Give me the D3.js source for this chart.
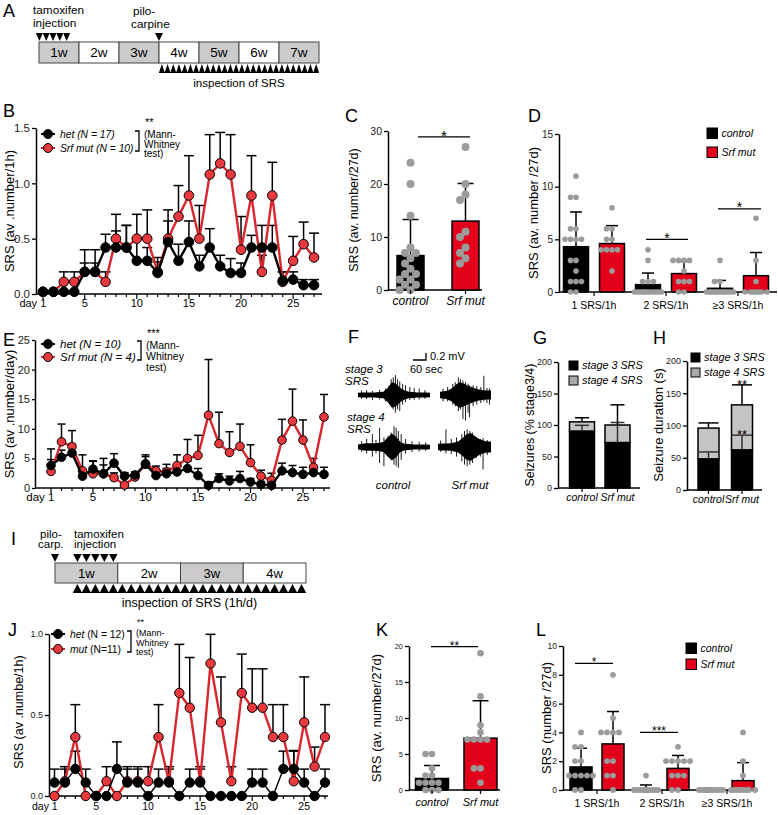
<!DOCTYPE html>
<html>
<head>
<meta charset="utf-8">
<script src="https://cdn.jsdelivr.net/npm/d3@7"></script>
<style>
body { margin: 0; background: #fff; }
svg { font-family: "Liberation Sans", Arial, sans-serif; }
</style>
</head>
<body>
<div id="fig"></div>
<script>
// ---- data ----
var days = d3.range(1, 28);
var xLabelDays = [1, 5, 10, 15, 20, 25];

// B: SRS per 1h, het vs Srf mut
var bHet    = [0.02,0.02,0.02,0.02,0.2,0.2,0.42,0.42,0.42,0.3,0.3,0.19,0.47,0.3,0.47,0.25,0.42,0.25,0.19,0.19,0.42,0.42,0.42,0.12,0.13,0.08,0.08];
var bHetErr = [0,0,0,0,0.2,0.2,0.12,0.15,0.2,0.2,0.12,0.1,0.19,0.15,0.19,0.1,0.17,0.1,0.13,0.09,0.11,0.2,0.2,0.08,0.07,0.05,0.05];
var bMut    = [0.02,0.02,0.11,0.11,0.2,0.2,0.11,0.5,0.42,0.5,0.5,0.2,0.5,0.7,0.89,0.5,1.08,1.18,1.08,0.4,0.89,0.2,0.89,0.11,0.3,0.45,0.33];
var bMutErr = [0,0,0.09,0.09,0.08,0.08,0.09,0.22,0.2,0.22,0.26,0.13,0.26,0.28,0.36,0.3,0.36,0.28,0.36,0.3,0.36,0.15,0.3,0.09,0.22,0.2,0.22];

// C: SRS per 27 days
var groupsCK = ["control", "Srf mut"];
var cCtrlDots = [24,20,14,8,7,7,6,5,4,3,3,2,2,1,1,0,0];
var cMutDots  = [27,20,18,17,11,10,8,7,6,5];
var cMean = [6.5, 13.0];
var cErr  = [6.8, 7.1];

// D: SRS by number of seizures per hour
var groupsDL = ["1 SRS/1h", "2 SRS/1h", "\u22653 SRS/1h"];
var dCtrlMean = [4.3, 0.7, 0.35];
var dCtrlErr  = [3.3, 1.1, 0.75];
var dMutMean  = [4.6, 1.75, 1.55];
var dMutErr   = [1.7, 1.15, 2.2];
var dCtrlDots = [
  [11,9,9,6,6,5,5,5,5,3,3,2,1,1,1,0,0],
  [4,3,1,1,1,0,0,0,0,0,0,0,0,0,0,0,0],
  [3,1,1,0,0,0,0,0,0,0,0,0,0,0,0,0,0]
];
var dMutDots = [
  [8,6,6,5,5,4,4,4,4,2],
  [3,3,3,3,2,1,1,1,0,0],
  [7,3,1,0,0,0,0,0,0,0]
];

// E: SRS per day
var eHet    = [3.8,5.2,5.9,2.0,3.2,2.4,4.2,2.0,2.2,4.0,2.1,2.4,2.7,3.3,2.1,0.45,1.6,1.2,1.6,1.0,0.6,0.45,2.9,2.6,2.3,2.6,2.3];
var eHetErr = [1.0,1.2,1.5,1.0,1.3,1.5,1.6,0.6,0.5,1.3,0.8,0.9,0.9,1.2,1.2,0.6,0.8,0.8,1.2,0.6,0.5,0.5,1.3,1.2,1.2,1.0,1.2];
var eMut    = [2.8,7.8,7.0,2.9,2.4,2.4,1.75,0.5,1.85,4.1,2.9,2.7,3.8,5.0,5.5,12.3,7.5,6.0,7.05,4.3,2.0,1.3,8.1,11.3,8.1,3.5,12.0];
var eMutErr = [3.8,3.0,2.7,2.7,2.2,2.6,0.8,2.0,0.8,1.5,0.8,1.3,1.8,3.2,3.4,9.4,5.3,3.5,3.75,3.0,1.0,1.2,3.5,5.4,3.4,1.5,3.8];

// F: EEG envelopes (half amplitude, mV) and spikes [t, up, down]
var eegCtrl3 = [0.07,0.08,0.08,0.08,0.08,0.09,0.1,0.22,0.4,0.35,0.22,0.14,0.1,0.09,0.08,0.08,0.08,0.07];
var eegMut3  = [0.1,0.12,0.14,0.2,0.32,0.4,0.36,0.3,0.25,0.2,0.17,0.15,0.14,0.14];
var eegCtrl4 = [0.08,0.1,0.12,0.12,0.12,0.13,0.16,0.3,0.42,0.32,0.16,0.1,0.09,0.08,0.08,0.08,0.08,0.07];
var eegMut4  = [0.1,0.11,0.11,0.12,0.14,0.18,0.27,0.4,0.44,0.34,0.26,0.2,0.17,0.17];
var spkCtrl3 = [[0.05,0.14,0.12],[0.12,0.15,0.13],[0.2,0.13,0.16],[0.3,0.16,0.14],[0.38,0.2,0.2],[0.43,0.3,0.25],[0.46,0.5,0.35],[0.49,0.55,0.45],[0.52,0.62,0.55],[0.55,0.5,0.45],[0.58,0.42,0.5],[0.62,0.35,0.3],[0.66,0.3,0.22],[0.72,0.25,0.16],[0.78,0.22,0.15],[0.85,0.2,0.14],[0.93,0.15,0.12]];
var spkMut3  = [[0.06,0.2,0.2],[0.15,0.25,0.2],[0.25,0.35,0.3],[0.3,0.4,0.35],[0.36,0.55,0.5],[0.4,0.5,0.45],[0.45,0.45,0.75],[0.5,0.4,0.8],[0.55,0.35,0.55],[0.58,0.3,0.7],[0.65,0.3,0.35],[0.72,0.28,0.3],[0.8,0.25,0.25],[0.86,0.6,0.2],[0.92,0.22,0.25],[0.97,0.2,0.3]];
var spkCtrl4 = [[0.05,0.18,0.15],[0.12,0.25,0.2],[0.2,0.4,0.3],[0.25,0.22,0.2],[0.3,0.6,0.5],[0.36,0.3,0.6],[0.42,0.35,0.3],[0.46,0.45,0.4],[0.5,0.65,0.55],[0.53,0.6,0.6],[0.56,0.5,0.65],[0.6,0.4,0.4],[0.66,0.25,0.2],[0.75,0.18,0.16],[0.85,0.16,0.14],[0.94,0.14,0.12]];
var spkMut4  = [[0.05,0.2,0.15],[0.15,0.55,0.2],[0.25,0.25,0.22],[0.35,0.3,0.3],[0.45,0.4,0.45],[0.5,0.5,0.55],[0.55,0.55,0.6],[0.6,0.5,0.55],[0.65,0.45,0.5],[0.72,0.3,0.35],[0.8,0.25,0.3],[0.85,0.28,0.7],[0.93,0.22,0.25]];

// G: % stage3/4, H: seizure duration (s)
var gStage3 = [90, 72], gStage4 = [15, 28], gErr3 = [9.5, 32], gErrTot = [6.5, 32];
var hStage3 = [48, 62], hStage4 = [48, 70], hErr3 = [11, 23], hErrTot = [8, 31];

// J: SRS per 1h (late tamoxifen)
var jHet    = [0.083,0.083,0.167,0.083,0,0,0.167,0.083,0.083,0,0.083,0.083,0,0.083,0.083,0,0,0,0,0.083,0.083,0,0.167,0.167,0.083,0,0.083];
var jHetErr = [0.083,0.083,0.11,0.083,0,0,0.167,0.083,0.083,0,0.083,0.083,0,0.083,0.083,0,0,0,0,0.083,0.083,0,0.11,0.11,0.083,0,0.083];
var jMut    = [0,0.091,0.364,0,0,0.091,0,0.091,0.091,0.091,0.364,0.091,0.636,0.545,0.091,0.818,0.455,0.091,0.636,0.545,0.545,0.364,0.364,0.091,0.455,0.182,0.364];
var jMutErr = [0,0.09,0.2,0,0,0.09,0,0.09,0.09,0.09,0.2,0.09,0.3,0.31,0.09,0.18,0.28,0.09,0.24,0.24,0.24,0.2,0.2,0.19,0.28,0.12,0.2];

// K
var kCtrlDots = [5,5,3,2,2,1,1,1,1,0,0,0];
var kMutDots  = [19,13,9,8,7,7,7,7,3,3,1];
var kMean = [1.6, 7.2];
var kErr  = [1.8, 5.2];

// L
var lCtrlMean = [1.6, 0.08, 0];
var lCtrlErr  = [1.3, 0.27, 0];
var lMutMean  = [3.2, 1.5, 0.65];
var lMutErr   = [2.25, 0.9, 1.25];
var lCtrlDots = [
  [4,3,3,2,2,1,1,1,1,1,0,0],
  [1,0,0,0,0,0,0,0,0,0,0,0],
  [0,0,0,0,0,0,0,0,0,0,0,0]
];
var lMutDots = [
  [8,5,4,4,4,4,2,2,1,1,0],
  [3,2,2,2,2,2,1,1,1,0,0],
  [4,2,1,0,0,0,0,0,0,0,0]
];

// timelines
var weeksA = ["1w","2w","3w","4w","5w","6w","7w"];
var shadedA = [1,0,1,0,1,0,1];
var tamoxDaysA = [0.07,1.26,2.45,3.64,4.83];
var piloDayA = 21;
var weeksI = ["1w","2w","3w","4w"];
var shadedI = [1,0,1,0];
var tamoxDaysI = [3,4,5,6,7];
var piloDayI = 0;

// ---- drawing ----
var RED = "#e2001a", RED_LINE = "#d9262c", RED_DOT = "#e8393e", DOT_GRAY = "#9b9b9b", ST4 = "#c4c4c4";

var svg = d3.select("#fig").append("svg")
    .attr("width", 778)
    .attr("height", 815);

function txt(g, x, y, s, size, opt) {
    opt = opt || {};
    return g.append("text")
        .attr("x", x).attr("y", y)
        .attr("font-size", size)
        .attr("font-style", opt.italic ? "italic" : null)
        .attr("text-anchor", opt.anchor || "start")
        .attr("fill", opt.fill || "#000")
        .text(s);
}

function yLabel(x, cy, s, size) {
    svg.append("text")
        .attr("transform", "translate(" + x + "," + cy + ") rotate(-90)")
        .attr("text-anchor", "middle")
        .attr("font-size", size)
        .text(s);
}

function yAxis(g, y, ax, ticks, fmt, size, tsize) {
    var a = d3.axisLeft(y).tickValues(ticks).tickFormat(fmt)
        .tickSize(tsize || 4).tickSizeOuter(0).tickPadding(2);
    var ag = g.append("g").attr("transform", "translate(" + ax + ",0)").call(a);
    ag.attr("font-family", null);
    ag.select(".domain").attr("stroke-width", 1.5);
    ag.selectAll(".tick line").attr("stroke-width", 1.3);
    ag.selectAll(".tick text").attr("font-size", size).attr("fill", "#222");
}

// timeline diagram (A, I)
function timeline(o) {
    var g = svg.append("g");
    var x = d3.scaleLinear().domain([0, o.weeks.length * 7]).range([o.x0, o.x1]);
    g.selectAll("rect").data(o.weeks).join("rect")
        .attr("x", function (d, i) { return x(i * 7); })
        .attr("y", o.y)
        .attr("width", function (d, i) { return x((i + 1) * 7) - x(i * 7); })
        .attr("height", o.h)
        .attr("fill", function (d, i) { return o.shaded[i] ? "#cbcbcb" : "#fff"; })
        .attr("stroke", "#444").attr("stroke-width", 1);
    g.selectAll("text.wk").data(o.weeks).join("text")
        .attr("class", "wk")
        .attr("x", function (d, i) { return x(i * 7 + 3.5); })
        .attr("y", o.y + o.h / 2 + o.fs * 0.36)
        .attr("text-anchor", "middle").attr("font-size", o.fs)
        .text(function (d) { return d; });
    function down(cx, w) {
        var t = o.y - 9;
        return "M" + (cx - w / 2) + "," + t + "L" + (cx + w / 2) + "," + t + "L" + cx + "," + (o.y - 1) + "Z";
    }
    g.selectAll("path.tam").data(o.tamox).join("path")
        .attr("class", "tam").attr("d", function (d) { return down(x(d), o.tamW); });
    g.append("path").attr("d", down(x(o.pilo), 8));
    var ins = d3.range(o.insFrom, o.insTo + 1);
    var b = o.y + o.h + 9.5, w = x(1) - x(0);
    g.selectAll("path.ins").data(ins).join("path")
        .attr("class", "ins")
        .attr("d", function (d) {
            var cx = x(d - 0.5);
            return "M" + (cx - w / 2) + "," + b + "L" + (cx + w / 2) + "," + b + "L" + cx + "," + (o.y + o.h + 1) + "Z";
        });
    g.append("line").attr("x1", x(o.insFrom - 1)).attr("x2", x(o.insTo)).attr("y1", b).attr("y2", b)
        .attr("stroke", "#000").attr("stroke-width", 1);
    txt(g, (x(o.insFrom - 1) + x(o.insTo)) / 2, b + 14, o.insText, o.insFs, {anchor: "middle"});
}

// day-course line chart (B, E, J)
function lineChart(o) {
    var g = svg.append("g");
    var x = d3.scaleLinear().domain([1, 27]).range([o.x1, o.x27]);
    var y = d3.scaleLinear().domain([0, o.ymax]).range([o.y0, o.ytop]);
    yAxis(g, y, o.ax, o.yticks, o.yfmt, o.yfs, o.ytsize);
    g.append("line").attr("x1", o.ax).attr("x2", o.xEnd).attr("y1", o.y0).attr("y2", o.y0)
        .attr("stroke", "#000").attr("stroke-width", 1.5);
    g.selectAll("line.xt").data(days).join("line")
        .attr("class", "xt")
        .attr("x1", function (d) { return x(d); }).attr("x2", function (d) { return x(d); })
        .attr("y1", o.y0)
        .attr("y2", function (d) { return o.y0 + (xLabelDays.indexOf(d) >= 0 ? 5 : 3); })
        .attr("stroke", "#000").attr("stroke-width", 1.2);
    g.selectAll("text.xl").data(xLabelDays).join("text")
        .attr("class", "xl")
        .attr("x", function (d) { return d === 1 ? x(d) + o.xfs * 0.3 : x(d); })
        .attr("y", o.y0 + o.xlOff)
        .attr("text-anchor", function (d) { return d === 1 ? "end" : "middle"; })
        .attr("font-size", o.xfs)
        .text(function (d) { return d === 1 ? "day 1" : d; });

    var series = [
        {v: o.mut, e: o.mutErr, stroke: RED_LINE, fill: RED_DOT, lw: o.redW},
        {v: o.het, e: o.hetErr, stroke: "#000", fill: "#000", lw: o.blackW}
    ];
    series.forEach(function (s) {
        var pts = days.map(function (d, i) { return {d: d, v: s.v[i], e: s.e[i]}; })
            .filter(function (p) { return p.e > 0; });
        g.append("g").selectAll("line").data(pts).join("line")
            .attr("x1", function (p) { return x(p.d); }).attr("x2", function (p) { return x(p.d); })
            .attr("y1", function (p) { return y(p.v); }).attr("y2", function (p) { return y(p.v + p.e); })
            .attr("stroke", "#000").attr("stroke-width", 1.5);
        g.append("g").selectAll("line").data(pts).join("line")
            .attr("x1", function (p) { return x(p.d) - o.capW / 2; }).attr("x2", function (p) { return x(p.d) + o.capW / 2; })
            .attr("y1", function (p) { return y(p.v + p.e); }).attr("y2", function (p) { return y(p.v + p.e); })
            .attr("stroke", "#000").attr("stroke-width", 1.5);
    });
    series.forEach(function (s) {
        var line = d3.line().x(function (d, i) { return x(days[i]); }).y(function (d) { return y(d); });
        g.append("path").attr("d", line(s.v)).attr("fill", "none")
            .attr("stroke", s.stroke).attr("stroke-width", s.lw);
        g.append("g").selectAll("circle").data(s.v).join("circle")
            .attr("cx", function (d, i) { return x(days[i]); })
            .attr("cy", function (d) { return y(d); })
            .attr("r", o.r)
            .attr("fill", s.fill).attr("stroke", "#000").attr("stroke-width", 1);
    });
}

function lineLegend(o) {
    var g = svg.append("g");
    [{c: "#000", f: "#000", t: o.t1, y: o.y1}, {c: RED_LINE, f: RED_DOT, t: o.t2, y: o.y2}].forEach(function (it) {
        g.append("line").attr("x1", o.x - 7).attr("x2", o.x + 7).attr("y1", it.y).attr("y2", it.y)
            .attr("stroke", it.c).attr("stroke-width", 2);
        g.append("circle").attr("cx", o.x).attr("cy", it.y).attr("r", o.r)
            .attr("fill", it.f).attr("stroke", "#000").attr("stroke-width", 1);
        var t = g.append("text").attr("x", o.x + 12).attr("y", it.y + o.fs * 0.36).attr("font-size", o.fs);
        it.t.forEach(function (part) {
            t.append("tspan").attr("font-style", part[1] ? "italic" : null).text(part[0]);
        });
    });
    g.append("path")
        .attr("d", "M" + (o.bx - 4) + "," + (o.y1 - 3) + "H" + o.bx + "V" + (o.y2 + 3) + "H" + (o.bx - 4))
        .attr("fill", "none").attr("stroke", "#000").attr("stroke-width", 1.3);
    txt(g, o.bx + 6, o.sy, o.stars, o.sfs);
    o.mw.forEach(function (s, i) { txt(g, o.bx + 5, o.my + i * o.mdy, s, o.mfs); });
}

// beeswarm offsets for one column of dots
function swarm(vals, y, r, maxOff) {
    var placed = [];
    return vals.map(function (v) {
        var py = y(v), best = 0, bestD = -1;
        for (var k = 0; k <= maxOff; k += 0.5) {
            var cands = k === 0 ? [0] : [-k, k];
            for (var j = 0; j < cands.length; j++) {
                var dx = cands[j], md = Infinity;
                placed.forEach(function (p) {
                    md = Math.min(md, Math.hypot(p[0] - dx, p[1] - py));
                });
                if (md >= 2 * r * 0.95) { placed.push([dx, py]); return [dx, py]; }
                if (md > bestD) { bestD = md; best = dx; }
            }
        }
        placed.push([best, py]);
        return [best, py];
    });
}

// bars with scattered individual points (C, D, K, L)
function barDots(o) {
    var g = svg.append("g");
    var y = d3.scaleLinear().domain([0, o.ymax]).range([o.y0, o.ytop]);
    yAxis(g, y, o.ax, o.yticks, d3.format("d"), o.yfs);
    g.append("line").attr("x1", o.ax).attr("x2", o.xEnd).attr("y1", o.y0).attr("y2", o.y0)
        .attr("stroke", "#000").attr("stroke-width", 1.5);
    o.bars.forEach(function (b) {
        var x0 = b.cx - o.bw / 2;
        if (b.mean > 0) {
            g.append("rect").attr("x", x0).attr("y", y(b.mean))
                .attr("width", o.bw).attr("height", o.y0 - y(b.mean))
                .attr("fill", b.fill).attr("stroke", "#000").attr("stroke-width", 1.5);
        }
        if (b.err > 0) {
            g.append("line").attr("x1", b.cx).attr("x2", b.cx)
                .attr("y1", y(b.mean)).attr("y2", y(b.mean + b.err))
                .attr("stroke", "#000").attr("stroke-width", 1.5);
            g.append("line").attr("x1", b.cx - o.capW / 2).attr("x2", b.cx + o.capW / 2)
                .attr("y1", y(b.mean + b.err)).attr("y2", y(b.mean + b.err))
                .attr("stroke", "#000").attr("stroke-width", 1.5);
        }
        var pos = swarm(b.dots, y, o.r, o.bw / 2 + 1);
        g.append("g").selectAll("circle").data(pos).join("circle")
            .attr("cx", function (p) { return b.cx + p[0]; })
            .attr("cy", function (p) { return p[1]; })
            .attr("r", o.r).attr("fill", DOT_GRAY);
    });
    o.ticksX.forEach(function (tx) {
        g.append("line").attr("x1", tx).attr("x2", tx).attr("y1", o.y0).attr("y2", o.y0 + 4)
            .attr("stroke", "#000").attr("stroke-width", 1.2);
    });
    o.labels.forEach(function (l) {
        txt(g, l[1], o.y0 + o.xlOff, l[0], o.xfs, {anchor: "middle", italic: o.italicX});
    });
    o.sig.forEach(function (s) {
        var sy = y(s.v);
        g.append("line").attr("x1", s.x1).attr("x2", s.x2).attr("y1", sy).attr("y2", sy)
            .attr("stroke", "#000").attr("stroke-width", 1.3);
        txt(g, (s.x1 + s.x2) / 2, sy + o.sfs * 0.25, s.t, o.sfs, {anchor: "middle"});
    });
}

function squareLegend(g, x, ys, labels, fills, size, fs) {
    labels.forEach(function (l, i) {
        g.append("rect").attr("x", x).attr("y", ys[i]).attr("width", size).attr("height", size)
            .attr("fill", fills[i]).attr("stroke", "#000").attr("stroke-width", 1);
        txt(g, x + size + 4, ys[i] + size * 0.5 + fs * 0.36, l, fs, {italic: true});
    });
}

// stacked stage3/stage4 bars (G, H)
function stacked(o) {
    var g = svg.append("g");
    var y = d3.scaleLinear().domain([0, 200]).range([o.y0, o.ytop]);
    yAxis(g, y, o.ax, [0, 50, 100, 150, 200], d3.format("d"), o.yfs);
    g.append("line").attr("x1", o.ax).attr("x2", o.xEnd).attr("y1", o.y0).attr("y2", o.y0)
        .attr("stroke", "#000").attr("stroke-width", 1.5);
    var xc = d3.scalePoint().domain(groupsCK).range(o.cx);
    groupsCK.forEach(function (k, i) {
        var c = xc(k), x0 = c - o.bw / 2, s3 = o.s3[i], tot = o.s3[i] + o.s4[i];
        g.append("rect").attr("x", x0).attr("y", y(tot)).attr("width", o.bw).attr("height", y(s3) - y(tot))
            .attr("fill", ST4).attr("stroke", "#000").attr("stroke-width", 1.5);
        g.append("rect").attr("x", x0).attr("y", y(s3)).attr("width", o.bw).attr("height", o.y0 - y(s3))
            .attr("fill", "#000").attr("stroke", "#000").attr("stroke-width", 1.5);
        [[s3, o.e3[i], "#333"], [tot, o.eT[i], "#000"]].forEach(function (e) {
            g.append("line").attr("x1", c).attr("x2", c).attr("y1", y(e[0])).attr("y2", y(e[0] + e[1]))
                .attr("stroke", e[2]).attr("stroke-width", 1.5);
            g.append("line").attr("x1", c - o.capW / 2).attr("x2", c + o.capW / 2)
                .attr("y1", y(e[0] + e[1])).attr("y2", y(e[0] + e[1]))
                .attr("stroke", e[2]).attr("stroke-width", 1.5);
        });
        g.append("line").attr("x1", c).attr("x2", c).attr("y1", o.y0).attr("y2", o.y0 + 4)
            .attr("stroke", "#000").attr("stroke-width", 1.2);
        txt(g, c, o.y0 + 13, k, 10.5, {anchor: "middle", italic: true});
    });
    squareLegend(g, o.legX, o.legY, ["stage 3 SRS", "stage 4 SRS"], ["#000", "#a9a9a9"], 9, 10.8);
    return {g: g, y: y, x: xc};
}

// EEG trace as envelope band plus spikes
function eegTrace(env, spikes, x0, x1, cy) {
    var pxPerMv = 32;
    var t = d3.scaleLinear().domain([0, env.length - 1]).range([x0, x1]);
    var area = d3.area().curve(d3.curveLinear)
        .x(function (d, i) { return t(i); })
        .y0(function (d) { return cy + d * pxPerMv; })
        .y1(function (d) { return cy - d * pxPerMv; });
    svg.append("path").attr("d", area(env)).attr("fill", "#000");
    var ts = d3.scaleLinear().domain([0, 1]).range([x0, x1]);
    svg.append("g").selectAll("line").data(spikes).join("line")
        .attr("x1", function (d) { return ts(d[0]); }).attr("x2", function (d) { return ts(d[0]); })
        .attr("y1", function (d) { return cy - d[1] * pxPerMv; })
        .attr("y2", function (d) { return cy + d[2] * pxPerMv; })
        .attr("stroke", "#000").attr("stroke-width", 0.9);
}

// ---- panels ----
function panelLetter(s, x, y) { txt(svg, x, y, s, 18); }

// A
panelLetter("A", 3, 17);
timeline({weeks: weeksA, shaded: shadedA, x0: 39, x1: 319, y: 42, h: 21, fs: 13.5,
    tamox: tamoxDaysA, tamW: 7, pilo: piloDayA, insFrom: 22, insTo: 49,
    insText: "inspection of SRS", insFs: 11.5});
txt(svg, 33, 14, "tamoxifen", 11.8);
txt(svg, 33, 27, "injection", 11.8);
txt(svg, 133, 15, "pilo-", 11.8);
txt(svg, 131, 28, "carpine", 11.8);

// B
panelLetter("B", 3, 117);
lineChart({ax: 36, x1: 43, x27: 314, xEnd: 322, y0: 294, ytop: 128, ymax: 1.5,
    yticks: [0, 0.5, 1, 1.5], yfmt: d3.format(".1f"), yfs: 11.5, xfs: 11, xlOff: 13,
    het: bHet, hetErr: bHetErr, mut: bMut, mutErr: bMutErr, r: 4.8, blackW: 2.4, redW: 2.4, capW: 10});
yLabel(14, 211, "SRS (av .number/1h)", 13);
lineLegend({x: 48, y1: 134, y2: 148, r: 4.5, fs: 10.3,
    t1: [["het (N = 17)", true]], t2: [["Srf mut (N = 10)", true]],
    bx: 139, stars: "**", sy: 126, sfs: 11, mw: ["(Mann-", "Whitney", "test)"], my: 138, mdy: 9.5, mfs: 10});

// C
panelLetter("C", 345, 122);
var xC = d3.scalePoint().domain(groupsCK).range([410.5, 465.5]);
barDots({ax: 388, y0: 290, ytop: 131, ymax: 30, yticks: [0, 10, 20, 30], yfs: 10.5, xEnd: 482,
    bw: 27, capW: 16, r: 4,
    bars: [
        {cx: xC("control"), mean: cMean[0], err: cErr[0], fill: "#000", dots: cCtrlDots},
        {cx: xC("Srf mut"), mean: cMean[1], err: cErr[1], fill: RED, dots: cMutDots}
    ],
    ticksX: [xC("control"), xC("Srf mut")],
    labels: [["control", xC("control")], ["Srf mut", xC("Srf mut")]], xfs: 12, xlOff: 15, italicX: true,
    sig: [{x1: 418, x2: 470, v: 28.9, t: "*"}], sfs: 15});
yLabel(358, 210, "SRS (av. number/27d)", 12.5);

// D
panelLetter("D", 528, 122);
var xD = d3.scaleBand().domain(groupsDL).range([559, 775]);
var subD = d3.scalePoint().domain(groupsCK).range([17, 53]);
var barsD = [];
groupsDL.forEach(function (gname, i) {
    barsD.push({cx: xD(gname) + subD("control"), mean: dCtrlMean[i], err: dCtrlErr[i], fill: "#000", dots: dCtrlDots[i]});
    barsD.push({cx: xD(gname) + subD("Srf mut"), mean: dMutMean[i], err: dMutErr[i], fill: RED, dots: dMutDots[i]});
});
barDots({ax: 559, y0: 292, ytop: 134, ymax: 15, yticks: [0, 5, 10, 15], yfs: 10, xEnd: 777,
    bw: 25, capW: 12, r: 2.8, bars: barsD,
    ticksX: groupsDL.map(function (gname) { return xD(gname) + 35; }),
    labels: groupsDL.map(function (gname) { return [gname, xD(gname) + 35]; }), xfs: 10.5, xlOff: 17, italicX: false,
    sig: [{x1: 646, x2: 688, v: 5.0, t: "*"}, {x1: 718, x2: 761, v: 7.9, t: "*"}], sfs: 14});
yLabel(538, 213, "SRS (av. number /27d)", 13);
squareLegend(svg, 707, [128, 147], ["control", "Srf mut"], ["#000", RED], 10.5, 10.5);

// E
panelLetter("E", 3, 346);
lineChart({ax: 35, x1: 51, x27: 324, xEnd: 330, y0: 488, ytop: 340, ymax: 25,
    yticks: [0, 5, 10, 15, 20, 25], yfmt: d3.format("d"), yfs: 11, ytsize: 3, xfs: 11.5, xlOff: 13,
    het: eHet, hetErr: eHetErr, mut: eMut, mutErr: eMutErr, r: 4.3, blackW: 2.4, redW: 2.4, capW: 8});
yLabel(14, 414, "SRS (av .number/day)", 13);
lineLegend({x: 48, y1: 344, y2: 357, r: 4.5, fs: 11.5,
    t1: [["het (N = 10)", true]], t2: [["Srf mut (N = 4)", true]],
    bx: 141, stars: "***", sy: 337, sfs: 11, mw: ["(Mann-", "Whitney", "test)"], my: 349, mdy: 11, mfs: 10.5});

// F
panelLetter("F", 348, 343);
svg.append("path").attr("d", "M426,353V360H413").attr("fill", "none").attr("stroke", "#000").attr("stroke-width", 1.3);
txt(svg, 430, 360, "0.2 mV", 11);
txt(svg, 410, 373, "60 sec", 11);
txt(svg, 345, 373, "stage 3", 11.5, {italic: true});
txt(svg, 345, 385, "SRS", 11.5, {italic: true});
txt(svg, 347, 421, "stage 4", 11.5, {italic: true});
txt(svg, 347, 433, "SRS", 11.5, {italic: true});
eegTrace(eegCtrl3, spkCtrl3, 358, 430, 395);
eegTrace(eegMut3, spkMut3, 440, 491, 395);
eegTrace(eegCtrl4, spkCtrl4, 358, 430, 447);
eegTrace(eegMut4, spkMut4, 438, 491, 447);
txt(svg, 393, 489, "control", 11.5, {anchor: "middle", italic: true});
txt(svg, 470, 489, "Srf mut", 11.5, {anchor: "middle", italic: true});

// G
panelLetter("G", 533, 344);
stacked({ax: 558, y0: 488, ytop: 362, xEnd: 640, cx: [582, 617.5], bw: 25, capW: 14, yfs: 9,
    s3: gStage3, s4: gStage4, e3: gErr3, eT: gErrTot, legX: 569, legY: [361, 376]});
yLabel(534, 425, "Seizures (% stage3/4)", 12.5);

// H
panelLetter("H", 653, 344);
var hp = stacked({ax: 687, y0: 490, ytop: 361, xEnd: 762, cx: [708.5, 742], bw: 21, capW: 20, yfs: 9,
    s3: hStage3, s4: hStage4, e3: hErr3, eT: hErrTot, legX: 691, legY: [353, 368]});
txt(hp.g, hp.x("Srf mut"), hp.y(hStage3[1] + hStage4[1] + hErrTot[1]) + 4, "**", 13, {anchor: "middle"});
txt(hp.g, hp.x("Srf mut"), hp.y(hStage3[1] + hErr3[1]) + 4, "**", 13, {anchor: "middle"});
yLabel(663, 425, "Seizure duration (s)", 13);

// I
txt(svg, 11, 545, "I", 18);
timeline({weeks: weeksI, shaded: shadedI, x0: 55, x1: 306, y: 563, h: 20, fs: 13,
    tamox: tamoxDaysI.map(function (d) { return d - 0.5; }), tamW: 8.5, pilo: piloDayI,
    insFrom: 3, insTo: 28, insText: "inspection of SRS (1h/d)", insFs: 12.5});
txt(svg, 40, 538, "pilo-", 11.5);
txt(svg, 38, 548, "carp.", 11.5);
txt(svg, 74, 538, "tamoxifen", 11.5);
txt(svg, 74, 548, "injection", 11.5);

// J
panelLetter("J", 8, 636);
lineChart({ax: 49, x1: 54.5, x27: 325, xEnd: 328, y0: 796, ytop: 634, ymax: 1.0,
    yticks: [0, 0.5, 1], yfmt: d3.format(".1f"), yfs: 9, xfs: 10.5, xlOff: 14,
    het: jHet, hetErr: jHetErr, mut: jMut, mutErr: jMutErr, r: 4.7, blackW: 1.4, redW: 2.4, capW: 10});
yLabel(23, 712, "SRS (av .numbe/1h)", 12.5);
lineLegend({x: 58, y1: 634, y2: 649, r: 4.5, fs: 10.3,
    t1: [["het", true], [" (N = 12)", false]], t2: [["mut", true], [" (N=11)", false]],
    bx: 131, stars: "**", sy: 624.5, sfs: 9, mw: ["(Mann-", "Whitney", "test)"], my: 636, mdy: 9.5, mfs: 9});

// K
panelLetter("K", 376, 636);
var xK = d3.scalePoint().domain(groupsCK).range([432, 480.5]);
barDots({ax: 409, y0: 790, ytop: 646, ymax: 20, yticks: [0, 5, 10, 15, 20], yfs: 7.5, xEnd: 500,
    bw: 33, capW: 16, r: 3.3,
    bars: [
        {cx: xK("control"), mean: kMean[0], err: kErr[0], fill: "#000", dots: kCtrlDots},
        {cx: xK("Srf mut"), mean: kMean[1], err: kErr[1], fill: RED, dots: kMutDots}
    ],
    ticksX: [xK("control"), xK("Srf mut")],
    labels: [["control", xK("control")], ["Srf mut", xK("Srf mut")]], xfs: 11, xlOff: 16, italicX: true,
    sig: [{x1: 431, x2: 478, v: 19.9, t: "**"}], sfs: 12});
yLabel(381, 718, "SRS (av. number/27d)", 13);

// L
panelLetter("L", 536, 636);
var xL = d3.scaleBand().domain(groupsDL).range([563, 758]);
var subL = d3.scalePoint().domain(groupsCK).range([18, 50]);
var barsL = [];
groupsDL.forEach(function (gname, i) {
    barsL.push({cx: xL(gname) + subL("control"), mean: lCtrlMean[i], err: lCtrlErr[i], fill: "#000", dots: lCtrlDots[i]});
    barsL.push({cx: xL(gname) + subL("Srf mut"), mean: lMutMean[i], err: lMutErr[i], fill: RED, dots: lMutDots[i]});
});
barDots({ax: 563, y0: 790, ytop: 646, ymax: 10, yticks: [0, 2, 4, 6, 8, 10], yfs: 8.5, xEnd: 758,
    bw: 22, capW: 12, r: 2.9, bars: barsL,
    ticksX: groupsDL.map(function (gname) { return xL(gname) + 34; }),
    labels: groupsDL.map(function (gname) { return [gname, xL(gname) + 34]; }), xfs: 10.5, xlOff: 17, italicX: false,
    sig: [{x1: 575, x2: 613, v: 8.8, t: "*"}, {x1: 640, x2: 678, v: 4.0, t: "***"}], sfs: 12});
yLabel(551, 718, "SRS (number /27d)", 13);
squareLegend(svg, 686, [643, 659], ["control", "Srf mut"], ["#000", RED], 10.5, 10.5);
</script>
</body>
</html>
